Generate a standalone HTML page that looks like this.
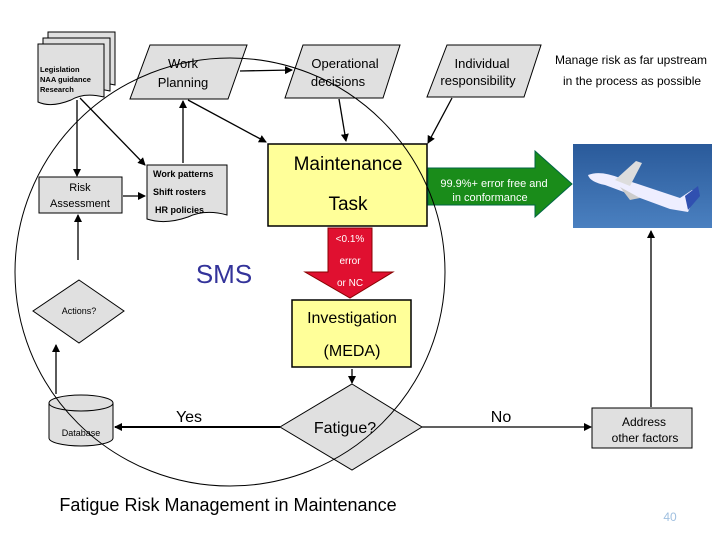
<!DOCTYPE html>
<html><head><meta charset="utf-8"><style>
html,body{margin:0;padding:0;background:#fff;}
svg{display:block;font-family:"Liberation Sans",sans-serif;}
</style></head><body>
<svg width="720" height="540" viewBox="0 0 720 540" xmlns="http://www.w3.org/2000/svg">
<defs>
<marker id="a" markerWidth="8" markerHeight="8" refX="7" refY="4" orient="auto" markerUnits="userSpaceOnUse"><path d="M0,0 L8,4 L0,8 z" fill="#000"/></marker>
<linearGradient id="sky" x1="0" y1="0" x2="0" y2="1"><stop offset="0" stop-color="#2a5a9a"/><stop offset="1" stop-color="#4a80c0"/></linearGradient>
</defs>
<g stroke="#000" stroke-width="1" fill="#e0e0e0">
<path d="M48,32 H115 V85 Q95,80 82,88 Q62,96 48,90 Z"/>
<path d="M43,38 H110 V91 Q90,86 77,94 Q57,102 43,96 Z"/>
<path d="M38,44 H104 V97 Q84,92 71,100 Q51,108 38,102 Z"/>
</g>
<g font-size="7.5" font-weight="bold" fill="#000"><text x="40" y="72">Legislation</text><text x="40" y="82">NAA guidance</text><text x="40" y="92">Research</text></g>
<polygon points="150,45 247,45 228,99 130,99" fill="#e0e0e0" stroke="#000"/>
<text x="183" y="68" font-size="13" text-anchor="middle">Work</text>
<text x="183" y="87" font-size="13" text-anchor="middle">Planning</text>
<polygon points="303,45 400,45 383,98 285,98" fill="#e0e0e0" stroke="#000"/>
<text x="345" y="68" font-size="13" text-anchor="middle">Operational</text>
<text x="338" y="86" font-size="13" text-anchor="middle">decisions</text>
<polygon points="447,45 541,45 524,97 427,97" fill="#e0e0e0" stroke="#000"/>
<text x="482" y="68" font-size="13" text-anchor="middle">Individual</text>
<text x="478" y="85" font-size="13" text-anchor="middle">responsibility</text>
<text x="631" y="64" font-size="12" text-anchor="middle">Manage risk as far upstream</text>
<text x="632" y="85" font-size="12" text-anchor="middle">in the process as possible</text>
<rect x="39" y="177" width="83" height="36" fill="#e0e0e0" stroke="#000"/>
<text x="80" y="191" font-size="11" text-anchor="middle">Risk</text>
<text x="80" y="207" font-size="11" text-anchor="middle">Assessment</text>
<path d="M147,165 H227 V215 Q205,209 188,217 Q165,225 147,219 Z" fill="#e0e0e0" stroke="#000"/>
<g font-size="9" font-weight="bold"><text x="153" y="177">Work patterns</text><text x="153" y="195">Shift rosters</text><text x="155" y="213">HR policies</text></g>
<rect x="268" y="144" width="159" height="82" fill="#ffff99" stroke="#000" stroke-width="1.5"/>
<text x="348" y="170" font-size="19" text-anchor="middle">Maintenance</text>
<text x="348" y="210" font-size="19" text-anchor="middle">Task</text>
<polygon points="428,168 535,168 535,151 572,184 535,217 535,205 428,205" fill="#1a8c1a" stroke="#064"/>
<text x="494" y="187" font-size="11" fill="#fff" text-anchor="middle">99.9%+ error free and</text>
<text x="490" y="201" font-size="11" fill="#fff" text-anchor="middle">in conformance</text>
<rect x="573" y="144" width="139" height="84" fill="url(#sky)"/>
<path d="M588,175 Q600,170 620,178 L680,198 L692,190 L697,192 L688,212 L670,209 L605,185 Q590,182 588,175 Z" fill="#eef"/>
<path d="M615,180 L636,161 L642,163 L630,186 Z" fill="#ddd"/>
<path d="M620,187 L640,198 L630,200 Z" fill="#ccc"/>
<path d="M685,196 L698,186 L700,196 L688,210 Z" fill="#3050b0"/>
<polygon points="328,228 372,228 372,272 393,272 350,298 305,272 328,272" fill="#e01030" stroke="#800"/>
<g font-size="10" fill="#fff" text-anchor="middle"><text x="350" y="242">&lt;0.1%</text><text x="350" y="264">error</text><text x="350" y="286">or NC</text></g>
<rect x="292" y="300" width="119" height="67" fill="#ffff99" stroke="#000" stroke-width="1.5"/>
<text x="352" y="323" font-size="16" text-anchor="middle">Investigation</text>
<text x="352" y="356" font-size="16" text-anchor="middle">(MEDA)</text>
<text x="224" y="283" font-size="26" fill="#33339a" text-anchor="middle">SMS</text>
<polygon points="79,280 124,311 79,343 33,311" fill="#e0e0e0" stroke="#000"/>
<text x="79" y="314" font-size="9" text-anchor="middle">Actions?</text>
<path d="M49,403 V438 A32,8 0 0 0 113,438 V403" fill="#e0e0e0" stroke="#000"/>
<ellipse cx="81" cy="403" rx="32" ry="8" fill="#e0e0e0" stroke="#000"/>
<text x="81" y="436" font-size="9" text-anchor="middle">Database</text>
<polygon points="352,384 422,427 352,470 280,427" fill="#e0e0e0" stroke="#000"/>
<text x="345" y="433" font-size="16" text-anchor="middle">Fatigue?</text>
<rect x="592" y="408" width="100" height="40" fill="#e0e0e0" stroke="#000"/>
<text x="644" y="426" font-size="12" text-anchor="middle">Address</text>
<text x="645" y="442" font-size="12" text-anchor="middle">other factors</text>
<text x="189" y="422" font-size="16" text-anchor="middle">Yes</text>
<text x="501" y="422" font-size="16" text-anchor="middle">No</text>
<text x="228" y="511" font-size="18" text-anchor="middle">Fatigue Risk Management in Maintenance</text>
<text x="670" y="521" font-size="12" fill="#a0c0e0" text-anchor="middle">40</text>
<g stroke="#000" stroke-width="1.3" fill="none" marker-end="url(#a)">
<line x1="77" y1="100" x2="77" y2="176"/>
<line x1="80" y1="98" x2="145" y2="165"/>
<line x1="183" y1="163" x2="183" y2="101"/>
<line x1="188" y1="100" x2="266" y2="142"/>
<line x1="240" y1="71" x2="292" y2="70"/>
<line x1="339" y1="99" x2="346" y2="141"/>
<line x1="452" y1="98" x2="428" y2="143"/>
<line x1="123" y1="196" x2="145" y2="196"/>
<line x1="78" y1="260" x2="78" y2="215"/>
<line x1="56" y1="394" x2="56" y2="345"/>
<line x1="352" y1="369" x2="352" y2="383"/>
<line x1="280" y1="427" x2="115" y2="427" stroke-width="2"/>
<line x1="422" y1="427" x2="591" y2="427"/>
<line x1="651" y1="407" x2="651" y2="231"/>
</g>
<ellipse cx="230" cy="272" rx="215" ry="214" fill="none" stroke="#000" stroke-width="1"/>
</svg>
</body></html>
